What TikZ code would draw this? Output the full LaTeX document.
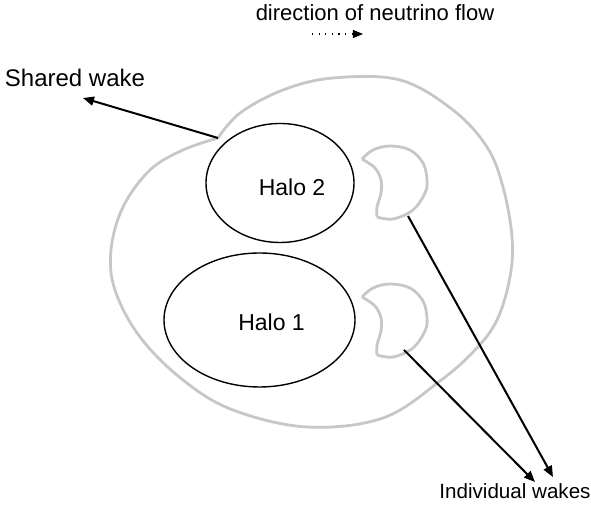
\documentclass[tikz,border=0pt]{standalone}
\usepackage{fontspec}
\setmainfont{Liberation Sans}
\usetikzlibrary{shapes.geometric,arrows.meta,calc}
\begin{document}
\begin{tikzpicture}[x=0.5pt,y=-0.5pt,
  txt/.style={font=\fontsize{11.5}{13}\selectfont, inner sep=0pt},
  halo/.style={draw=black, line width=0.7pt, ellipse, inner sep=0pt},
  wake/.style={draw=black!22, line width=1.4pt, line join=round},
  lead/.style={draw=black, line width=1pt, -{Triangle[length=5.5pt,width=4.5pt]}},
  crescent/.pic={
    \draw[wake] plot[smooth, tension=0.6] coordinates {(0,0) (11,-9) (28,-13) (48,-9) (61,4) (65,21) (63,34) (51,51) (31,60) (15,58)}
      plot[smooth, tension=0.6] coordinates {(15,58) (15,48) (19,34) (19,21) (13,9) (0,0)};
  }]
\useasboundingbox (0,0) rectangle (591,507);
% top label
\node[txt, font=\fontsize{11}{13}\selectfont] (dir) at (375,13) {direction of neutrino flow};
\coordinate (fa) at (312,34);
\coordinate (fb) at (363,34);
\draw[line width=0.6pt, dash pattern=on 0.6pt off 2.7pt, -{Triangle[length=5pt,width=4pt]}] (fa) -- (fb);
% outer shared wake
\draw[wake] plot[smooth, tension=0.6] coordinates {(218,138) (240,113) (283,90) (333,78) (400,80) (453,110) (487,147) (503,187) (512,237) (510,277) (497,320) (475,350) (440,381) (383,418) (307,427) (233,410) (183,380) (140,337) (115,290) (111,250) (123,207) (150,170) (183,150) (218,138)};
\coordinate (notch) at (218,138);
% halos
\node[halo, minimum width=74pt, minimum height=59.5pt] (h2) at (280,183) {};
\node[txt] at ($(h2.center)+(12,4)$) {Halo 2};
\node[halo, minimum width=95.5pt, minimum height=67pt] (h1) at (259.5,320) {};
\node[txt] at ($(h1.center)+(12,2)$) {Halo 1};
% individual wakes
\pic at (362,159) {crescent};
\pic at (362,297) {crescent};
\coordinate (w2) at (408,216);
\coordinate (w1) at (404,350);
% labels
\node[txt, font=\fontsize{12}{14}\selectfont] (shared) at (75,78) {Shared wake};
\coordinate (sharedtip) at (83,98);
\draw[lead] (notch) -- (sharedtip);
\node[txt, font=\fontsize{10.3}{12}\selectfont] (ind) at (515,491) {Individual wakes};
\coordinate (t2) at (553,477);
\coordinate (t1) at (535,482);
\draw[lead] (w2) -- (t2);
\draw[lead] (w1) -- (t1);
\end{tikzpicture}
\end{document}
